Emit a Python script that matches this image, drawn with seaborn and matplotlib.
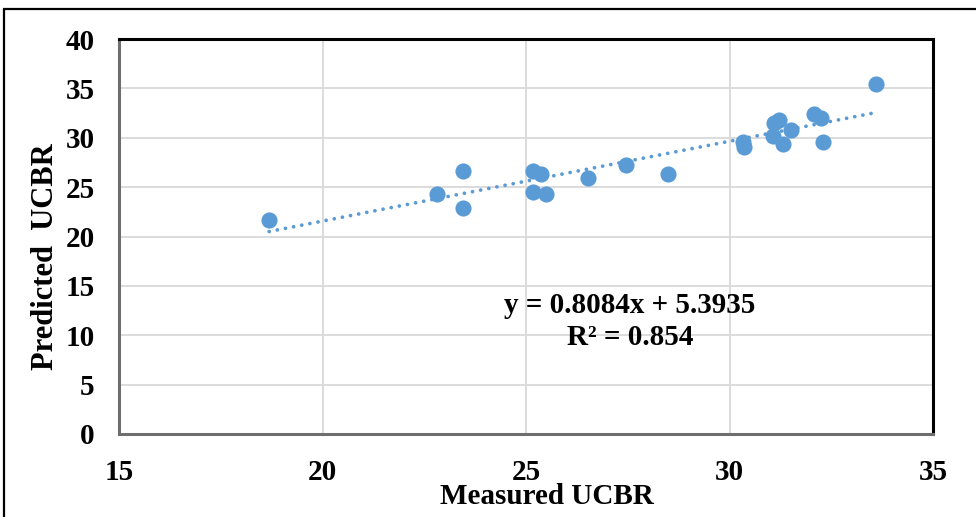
import matplotlib
matplotlib.use("Agg")
import matplotlib.pyplot as plt
from matplotlib.patches import Rectangle
import numpy as np
import pandas as pd
import seaborn as sns

# Measured vs predicted UCBR values
measured = [18.69, 22.81, 23.44, 23.44, 25.18, 25.36, 25.18, 25.48, 26.53, 27.46,
            28.50, 30.32, 30.35, 31.10, 31.22, 31.08, 31.32, 31.50, 32.08, 32.25,
            32.29, 33.61]
predicted = [21.67, 24.30, 26.66, 22.85, 26.63, 26.30, 24.54, 24.30, 25.96, 27.24,
             26.33, 29.55, 29.10, 31.45, 31.75, 30.20, 29.40, 30.78, 32.37, 31.97,
             29.60, 35.44]

# Linear trendline coefficients and fit quality
slope = 0.8084
intercept = 5.3935
r_squared = 0.854

x_ticks = [15, 20, 25, 30, 35]
y_ticks = [0, 5, 10, 15, 20, 25, 30, 35, 40]

df = pd.DataFrame({"Measured UCBR": measured, "Predicted UCBR": predicted})

sns.set_theme(style="white")
plt.rcParams["font.family"] = ["Liberation Serif", "DejaVu Serif"]
plt.rcParams["font.weight"] = "bold"
plt.rcParams["text.color"] = "black"
plt.rcParams["axes.labelcolor"] = "black"

blue = "#5B9BD5"

fig = plt.figure(figsize=(9.76, 5.17), dpi=100)
ax = fig.add_axes([119 / 976, 1 - 434 / 517, (933 - 119) / 976, (434 - 39) / 517])

# outer chart frame
fig.patches.append(Rectangle((3.5 / 976, -0.2), 1.2, 1.2 - 9 / 517,
                             transform=fig.transFigure, fill=False,
                             edgecolor="black", linewidth=1.6, zorder=0))

# trendline over the measured range
x_fit = np.array([min(measured), max(measured)])
y_fit = slope * x_fit + intercept
line, = ax.plot(x_fit, y_fit, color=blue, linewidth=2.7, zorder=2)
line.set_dashes((0.01, 2.2))
line.set_dash_capstyle("round")

sns.scatterplot(data=df, x="Measured UCBR", y="Predicted UCBR", ax=ax,
                s=135, color=blue, edgecolor=blue, linewidth=0, zorder=3)

ax.set_xlim(15, 35)
ax.set_ylim(0, 40)
ax.set_xticks(x_ticks)
ax.set_yticks(y_ticks)
ax.set_xticklabels([str(t) for t in x_ticks], fontsize=21, fontweight="bold")
ax.set_yticklabels([str(t) for t in y_ticks], fontsize=21, fontweight="bold")
ax.tick_params(axis="x", length=0, pad=18, colors="black")
ax.tick_params(axis="y", length=0, pad=17.5, colors="black")

ax.grid(True, color="#D9D9D9", linewidth=1.3)
ax.set_axisbelow(True)

for side in ("top", "right"):
    ax.spines[side].set_color("black")
    ax.spines[side].set_linewidth(2.2)
for side in ("left", "bottom"):
    ax.spines[side].set_color("#6E6E6E")
    ax.spines[side].set_linewidth(2.2)

ax.set_xlabel("Measured UCBR", fontsize=21, fontweight="bold")
ax.set_ylabel("Predicted  UCBR", fontsize=22, fontweight="bold")
ax.xaxis.set_label_coords(0.526, -0.125)
ax.yaxis.set_label_coords(-0.072, 0.448)

ax.text(27.55, 11.4, f"y = {slope}x + {intercept}\nR\u00b2 = {r_squared}",
        ha="center", va="center", fontsize=21, fontweight="bold",
        linespacing=1.25, zorder=4)

fig.savefig("out.png", dpi=100)
